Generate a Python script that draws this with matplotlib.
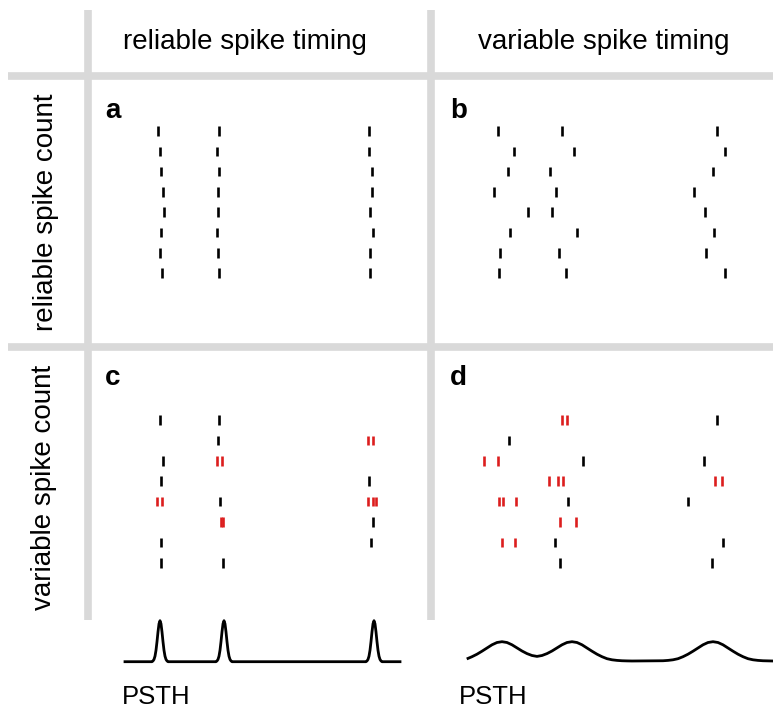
import matplotlib
matplotlib.use('Agg')
import matplotlib.pyplot as plt
import numpy as np

plt.rcParams['font.family'] = ['Liberation Sans', 'DejaVu Sans']

# trial numbers (rows of each raster)
trials = np.arange(1, 9)

# spike times (ms from panel start), one list per trial
spikes_a = [[68.3, 129.3, 278.7], [70.0, 126.7, 278.7], [70.7, 129.0, 281.7],
            [72.7, 127.7, 281.7], [74.0, 127.7, 280.0], [71.0, 126.7, 283.0],
            [70.0, 127.7, 280.0], [72.3, 129.0, 280.0]]
spikes_b = [[66.3, 130.3, 284.7], [82.0, 142.0, 293.0], [75.7, 118.3, 280.7],
            [62.3, 123.7, 262.3], [95.7, 120.3, 273.3], [78.3, 144.7, 281.7],
            [67.7, 126.7, 274.0], [66.7, 134.0, 293.0]]
# panel c / d: single spikes (black) and burst spikes (red)
spikes_c_black = [[70.0, 129.3], [127.7], [72.7], [71.0, 279.3], [130.3],
                  [282.7], [71.0, 281.0], [71.0, 133.3]]
spikes_c_red = [[], [278.3, 282.7], [127.3, 132.0], [],
                [67.3, 71.7, 278.3, 282.7, 286.0], [131.0, 133.3], [], []]
spikes_d_black = [[284.7], [77.3], [150.7, 272.0], [], [136.3, 255.7], [],
                  [123.0, 291.3], [128.0, 280.3]]
spikes_d_red = [[130.3, 134.7], [], [52.3, 66.3],
                [117.0, 125.7, 130.7, 283.0, 290.3], [67.3, 71.3, 84.0],
                [128.0, 144.0], [70.3, 83.0], []]

# PSTH curves (time, rate in arbitrary units)
psth_left_t = [35, 62, 63, 64, 65, 66, 67, 68, 69, 70, 71, 72, 73, 74, 75, 76, 77, 78,
               126, 127, 128, 129, 130, 131, 132, 133, 134, 135, 136, 137, 138, 139, 140, 141, 142,
               276, 277, 278, 279, 280, 281, 282, 283, 284, 285, 286, 287, 288, 289, 290, 291, 292,
               310]
psth_left_rate = [0, 0, 0.8, 2.3, 5.5, 11.4, 20.0, 29.8, 37.9, 41, 37.9, 29.8, 20.0, 11.4, 5.5, 2.3, 0.8, 0,
                  0, 0.8, 2.3, 5.5, 11.4, 20.0, 29.8, 37.9, 41, 37.9, 29.8, 20.0, 11.4, 5.5, 2.3, 0.8, 0,
                  0, 0.8, 2.3, 5.5, 11.4, 20.0, 29.8, 37.9, 41, 37.9, 29.8, 20.0, 11.4, 5.5, 2.3, 0.8, 0,
                  0]
psth_right_t = [36, 40, 45, 50, 55, 60, 65, 70, 75, 80, 85, 90, 95, 100, 105, 110, 115, 120,
                125, 130, 135, 140, 145, 150, 155, 160, 165, 170, 175, 180, 185, 190, 195, 200,
                231, 236, 241, 246, 251, 256, 261, 266, 271, 276, 281, 286, 291, 296, 301, 306,
                311, 316, 321, 326, 331, 341]
psth_right_rate = [2.6, 4.3, 6.8, 9.8, 13.0, 16.2, 18.5, 19.3, 18.5, 16.2, 13.1, 10.0, 7.4, 5.5,
                   4.6, 5.5, 7.4, 10.0, 13.1, 16.2, 18.5, 19.3, 18.5, 16.2, 13.0, 9.8, 6.8, 4.3,
                   2.3, 1.2, 0.6, 0.25, 0.1, 0, 0.25, 0.6, 1.2, 2.3, 4.3, 6.8, 9.8, 13.0, 16.2,
                   18.5, 19.3, 18.5, 16.2, 13.0, 9.8, 6.8, 4.3, 2.3, 1.2, 0.6, 0.25, 0]

W, H = 773, 711
fig = plt.figure(figsize=(W / 100, H / 100), dpi=100)


def px_axes(x0, y0, x1, y1):
    ax = fig.add_axes([x0 / W, 1 - y1 / H, (x1 - x0) / W, (y1 - y0) / H])
    ax.set_axis_off()
    return ax


def raster_axes(x0, y0, x1, y1, first_row, row_step):
    ax = px_axes(x0, y0, x1, y1)
    ax.set_xlim(0, x1 - x0)
    top = 1 - (first_row - y0) / row_step
    ax.set_ylim(top + (y1 - y0) / row_step, top)
    return ax


# grey grid and labels
bg = px_axes(0, 0, W, H)
bg.set_xlim(0, W)
bg.set_ylim(H, 0)
grey = '#d9d9d9'
for x in (88, 431):
    bg.plot([x, x], [10, 620], color=grey, lw=5.5, solid_capstyle='butt')
for y in (76, 347):
    bg.plot([8, W], [y, y], color=grey, lw=5.5, solid_capstyle='butt')

bg.text(245, 42, 'reliable spike timing', ha='center', va='center', fontsize=20)
bg.text(604, 42, 'variable spike timing', ha='center', va='center', fontsize=20)
bg.text(46, 212, 'reliable spike count', ha='center', va='center', rotation=90, fontsize=20)
bg.text(44, 487, 'variable spike count', ha='center', va='center', rotation=90, fontsize=20)
bg.text(122, 697, 'PSTH', ha='left', va='center', fontsize=18.5)
bg.text(459, 697, 'PSTH', ha='left', va='center', fontsize=18.5)
for lab, x, y in [('a', 105, 118), ('b', 450, 118), ('c', 105, 385), ('d', 450, 385)]:
    bg.text(x, y, lab, ha='left', va='baseline', fontsize=20, fontweight='bold')

red = '#dc1e1e'
kw = dict(lineoffsets=trials, linelengths=0.47, linewidths=1.9)

ax_a = raster_axes(90, 82, 430, 342, 131, 20.3)
ax_a.eventplot(spikes_a, colors='black', **kw)
ax_b = raster_axes(432, 82, W, 342, 131, 20.3)
ax_b.eventplot(spikes_b, colors='black', **kw)

ax_c = raster_axes(90, 352, 430, 612, 420, 20.4)
ax_c.eventplot(spikes_c_black, colors='black', **kw)
ax_c.eventplot(spikes_c_red, colors=red, **kw)
ax_d = raster_axes(432, 352, W, 612, 420, 20.4)
ax_d.eventplot(spikes_d_black, colors='black', **kw)
ax_d.eventplot(spikes_d_red, colors=red, **kw)

# PSTHs
ax_pl = px_axes(90, 600, 430, 670)
ax_pl.set_xlim(0, 340)
ax_pl.set_ylim(-8.3, 61.7)
ax_pl.plot(psth_left_t, psth_left_rate, color='black', lw=2.0)
ax_pr = px_axes(432, 600, W, 670)
ax_pr.set_xlim(0, W - 432)
ax_pr.set_ylim(-9, 61)
ax_pr.plot(psth_right_t, psth_right_rate, color='black', lw=2.0)

fig.savefig('out.png', dpi=100)
